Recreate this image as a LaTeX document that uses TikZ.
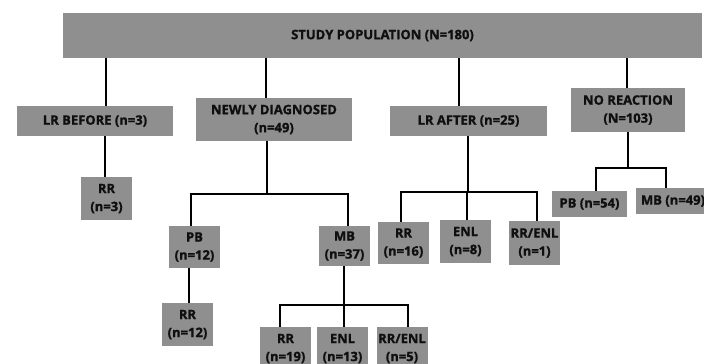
\documentclass[tikz,border=0pt]{standalone}
\usepackage{fontspec}
\setmainfont{Open Sans}[BoldFont={* Bold}, BoldFeatures={FakeBold=1.2}]
\definecolor{boxgray}{RGB}{143,143,143}
\definecolor{txt}{RGB}{15,15,15}
\tikzset{
  box/.style={fill=boxgray, inner sep=0pt, align=center, text=txt,
    font=\bfseries\fontsize{13}{18}\selectfont},
  conn/.style={draw=black, line width=2.2pt}
}
\begin{document}
\begin{tikzpicture}[x=1pt,y=-1pt]
\useasboundingbox (0,0) rectangle (704,364);
% level 0
\node[box, minimum width=639pt, minimum height=45pt] (top) at (382.5,35.5) {STUDY POPULATION (N=180)};
% level 1
\node[box, minimum width=156pt, minimum height=30pt] (lrb) at (95,121) {LR BEFORE (n=3)};
\node[box, minimum width=156pt, minimum height=43pt] (nd) at (274,119.5) {NEWLY DIAGNOSED\\(n=49)};
\node[box, minimum width=157pt, minimum height=30pt] (lra) at (468.5,121) {LR AFTER (n=25)};
\node[box, minimum width=114pt, minimum height=44pt] (nr) at (628,110) {NO REACTION\\(N=103)};
% level 2
\node[box, minimum width=51pt, minimum height=43pt] (rr3) at (106.5,198.5) {RR\\(n=3)};
\node[box, minimum width=51pt, minimum height=42pt] (pb) at (194.5,247) {PB\\(n=12)};
\node[box, minimum width=51pt, minimum height=40pt] (mb) at (344.5,246) {MB\\(n=37)};
\node[box, minimum width=51pt, minimum height=42pt] (rr16) at (403.5,243) {RR\\(n=16)};
\node[box, minimum width=51pt, minimum height=43pt] (enl8) at (465.5,241.5) {ENL\\(n=8)};
\node[box, minimum width=51pt, minimum height=44pt] (rrenl1) at (534.5,243) {RR/ENL\\(n=1)};
\node[box, minimum width=75pt, minimum height=26pt] (pb54) at (589.5,204) {PB (n=54)};
\node[box, minimum width=74pt, minimum height=26pt] (mb49) at (673,201) {MB (n=49)};
% level 3
\node[box, minimum width=51pt, minimum height=43pt] (rr12) at (187.5,324.5) {RR\\(n=12)};
\node[box, minimum width=51pt, minimum height=43pt] (rr19) at (285.5,348.5) {RR\\(n=19)};
\node[box, minimum width=51pt, minimum height=43pt] (enl13) at (342.5,348.5) {ENL\\(n=13)};
\node[box, minimum width=51pt, minimum height=43pt] (rrenl5) at (402,348.5) {RR/ENL\\(n=5)};
% junctions
\coordinate (ndj) at (267,194);
\coordinate (mbj) at (344,305);
\coordinate (lraj) at (468,192);
\coordinate (nrj) at (628,168);
% connectors
\draw[conn] (top.south -| 106,0) -- (lrb.north -| 106,0);
\draw[conn] (top.south -| 266,0) -- (nd.north -| 266,0);
\draw[conn] (top.south -| 459,0) -- (lra.north -| 459,0);
\draw[conn] (top.south -| 627,0) -- (nr.north -| 627,0);
\draw[conn] (lrb.south -| 105,0) -- (rr3.north -| 105,0);
\draw[conn] (nd.south -| ndj) -- (ndj);
\draw[conn] (pb.north -| 191,0) |- (ndj) -| (mb.north -| 348,0);
\draw[conn] (pb.south -| 189,0) -- (rr12.north -| 189,0);
\draw[conn] (mb.south -| mbj) -- (mbj);
\draw[conn] (rr19.north -| 280,0) |- (mbj) -| (rrenl5.north -| 408,0);
\draw[conn] (mbj) -- (enl13.north -| mbj);
\draw[conn] (lra.south -| lraj) -- (lraj);
\draw[conn] (rr16.north -| 401,0) |- (lraj) -| (rrenl1.north -| 537,0);
\draw[conn] (lraj -| 467,0) -- (enl8.north -| 467,0);
\draw[conn] (nr.south -| nrj) -- (nrj);
\draw[conn] (pb54.north -| 596,0) |- (nrj) -| (mb49.north -| 666,0);
\end{tikzpicture}
\end{document}
